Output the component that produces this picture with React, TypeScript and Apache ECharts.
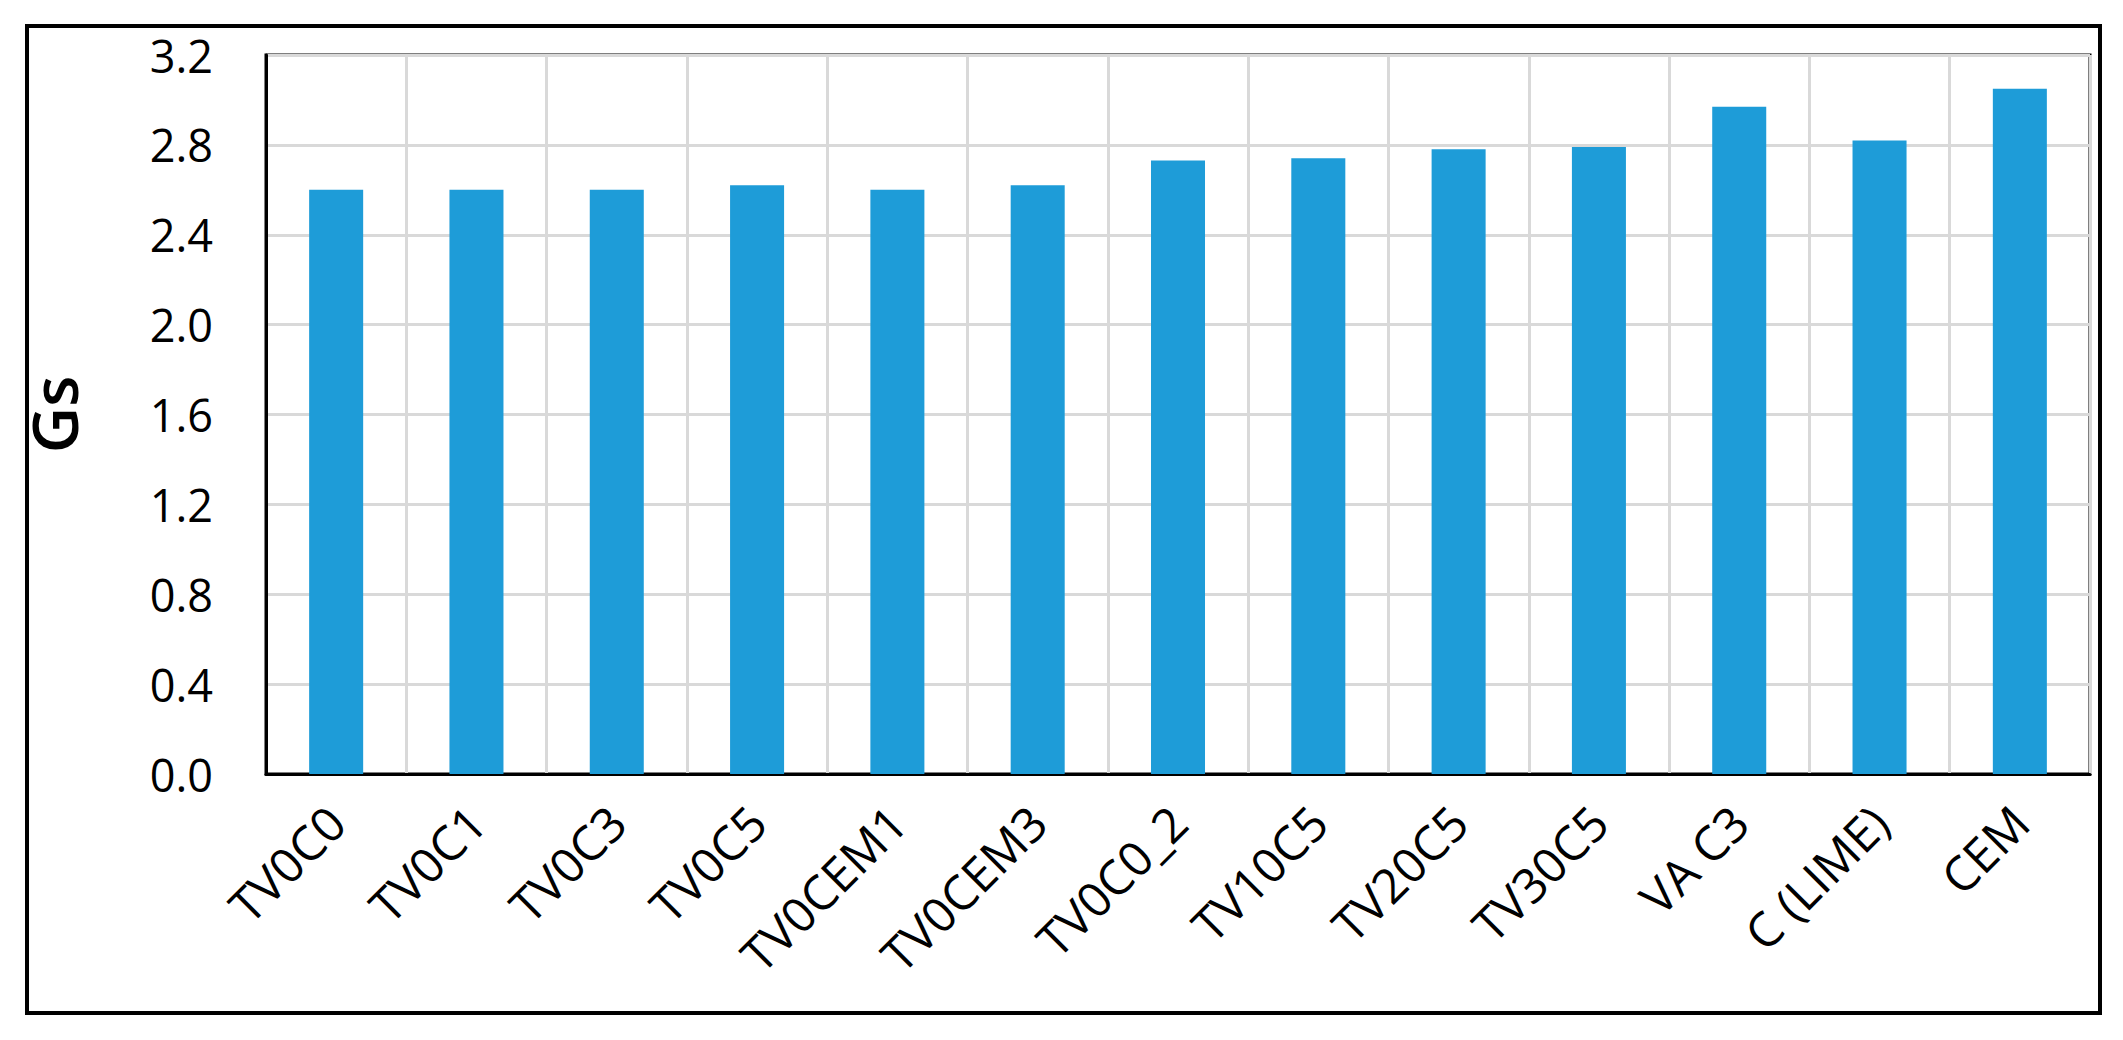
import React, { useEffect, useRef } from "react";
import * as echarts from "echarts";

const categories = [
  "TV0C0",
  "TV0C1",
  "TV0C3",
  "TV0C5",
  "TV0CEM1",
  "TV0CEM3",
  "TV0C0_2",
  "TV10C5",
  "TV20C5",
  "TV30C5",
  "VA C3",
  "C (LIME)",
  "CEM",
];
const gsValues = [2.6, 2.6, 2.6, 2.62, 2.6, 2.62, 2.73, 2.74, 2.78, 2.79, 2.97, 2.82, 3.05];
const yMin = 0;
const yMax = 3.2;
const yStep = 0.4;
const yTitle = "Gs";

const FONT = "'Open Sans', 'Noto Sans', sans-serif";

export default function App() {
  const ref = useRef<HTMLDivElement>(null);
  useEffect(() => {
    if (!ref.current) return;
    const chart = echarts.init(ref.current, null, { renderer: "svg" });
    chart.setOption({
      animation: false,
      backgroundColor: "#ffffff",
      textStyle: { fontFamily: FONT },
      grid: {
        left: 266,
        top: 55,
        width: 1824,
        height: 719,
        show: true,
        borderColor: "#000000",
        borderWidth: 3,
        backgroundColor: "transparent",
      },
      graphic: [
        {
          type: "rect",
          shape: { x: 27, y: 26, width: 2073, height: 987 },
          style: { fill: "none", stroke: "#000000", lineWidth: 4 },
          z: 100,
        },
      ],
      xAxis: {
        type: "category",
        data: categories,
        boundaryGap: true,
        axisLine: { show: true, lineStyle: { color: "#000000", width: 3 } },
        axisTick: { show: false },
        splitLine: { show: true, interval: 0, lineStyle: { color: "#d9d9d9", width: 3 } },
        axisLabel: {
          interval: 0,
          rotate: 45,
          margin: 40,
          fontSize: 48,
          color: "#000000",
          fontFamily: FONT,
        },
      },
      yAxis: {
        type: "value",
        min: yMin,
        max: yMax,
        interval: yStep,
        name: yTitle,
        nameLocation: "middle",
        nameGap: 181,
        nameRotate: 90,
        nameTextStyle: { fontSize: 64, fontWeight: 600, color: "#000000", fontFamily: FONT },
        axisLine: { show: true, lineStyle: { color: "#000000", width: 3 } },
        axisTick: { show: false },
        splitLine: { show: true, lineStyle: { color: "#d9d9d9", width: 3 } },
        axisLabel: {
          margin: 53,
          fontSize: 45,
          color: "#000000",
          fontFamily: FONT,
          formatter: (v: number) => v.toFixed(1),
        },
      },
      series: [
        {
          type: "bar",
          data: gsValues,
          barWidth: "38.5%",
          itemStyle: { color: "#1e9cd8" },
        },
      ],
    });
    return () => chart.dispose();
  }, []);
  return (
    <div
      ref={ref}
      style={{ position: "fixed", left: 0, top: 0, width: 2123, height: 1040, background: "#fff" }}
    />
  );
}
